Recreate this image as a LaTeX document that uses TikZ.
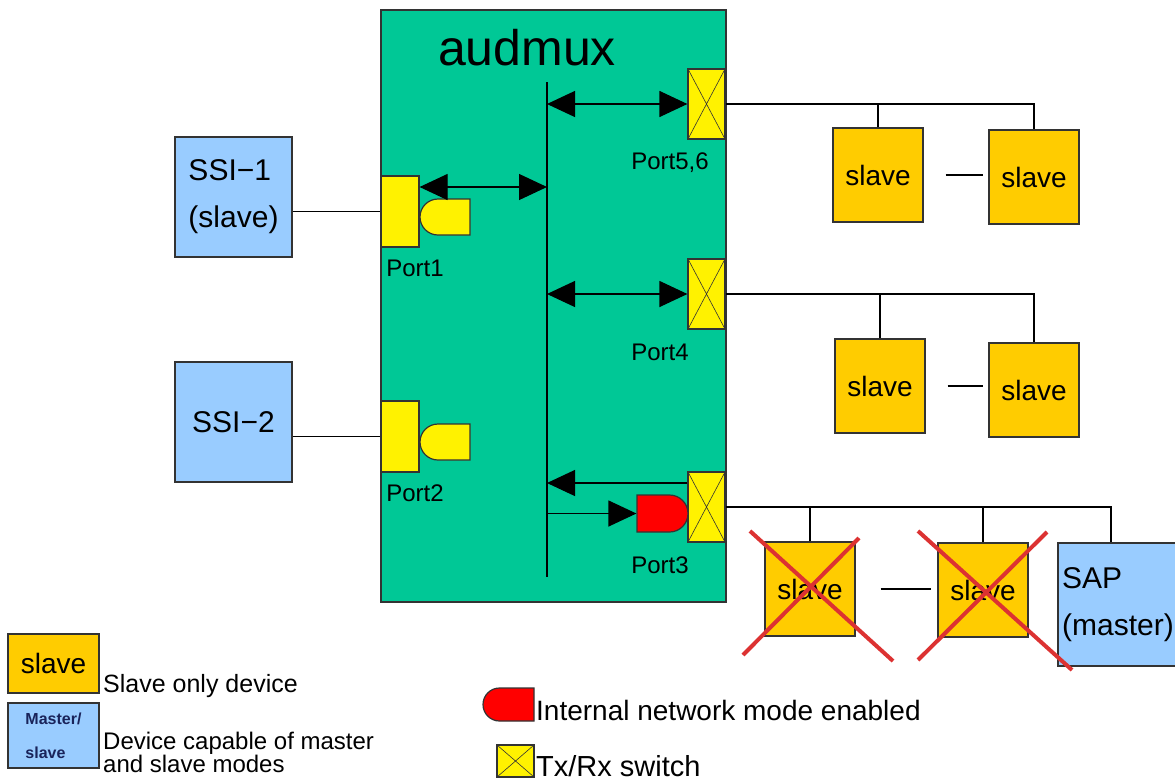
\documentclass[tikz,border=0pt]{standalone}
\usepackage{fontspec}
\setmainfont{Liberation Sans}
\usetikzlibrary{arrows.meta, positioning, shapes.misc}
\definecolor{muxgreen}{RGB}{0,200,150}
\definecolor{slaveorange}{RGB}{255,204,0}
\definecolor{msblue}{RGB}{153,204,255}
\definecolor{crossred}{RGB}{220,50,50}
\definecolor{msnavy}{RGB}{25,35,90}
\tikzset{
  slavebox/.style = {rectangle, draw=black!80, fill=slaveorange, line width=1.2pt, minimum width=90pt, minimum height=94pt, inner sep=0pt, font=\fontsize{28}{32}\selectfont},
  msbox/.style = {rectangle, draw=black!80, fill=msblue, line width=1.2pt, minimum width=117pt, minimum height=120pt, inner sep=0pt, align=left, font=\fontsize{30}{47}\selectfont},
  portbox/.style = {rectangle, draw=black!80, fill=yellow, line width=1.2pt, minimum width=38pt, minimum height=71pt, inner sep=0pt},
  halfgate/.style = {rounded rectangle, rounded rectangle right arc=none, draw=black!80, fill=yellow, line width=1.2pt, minimum width=50pt, minimum height=36pt, inner sep=0pt},
  txrx/.style = {portbox, minimum width=37pt, minimum height=70pt, path picture={\draw[line width=0.6pt] (path picture bounding box.north west) -- (path picture bounding box.south east) (path picture bounding box.north east) -- (path picture bounding box.south west);}},
  portlbl/.style = {inner sep=0pt, font=\fontsize{24}{28}\selectfont},
  lbl/.style = {inner sep=0pt, align=left},
  line/.style = {line width=1.2pt},
  arr/.style = {-{Triangle[length=28pt,width=26pt]}, line width=1.2pt},
  darr/.style = {{Triangle[length=28pt,width=26pt]}-{Triangle[length=28pt,width=26pt]}, line width=1.2pt},
  redx/.style = {draw=crossred, line width=4pt}
}
\begin{document}
\begin{tikzpicture}[x=1pt, y=-1pt]
\useasboundingbox (0,0) rectangle (1175,780);

% audmux block
\node[rectangle, draw=black!80, fill=muxgreen, line width=1.2pt, minimum width=345pt, minimum height=592pt] (mux) at (553.5,306) {};
\node[inner sep=0pt, font=\fontsize{50}{56}\selectfont] (title) at (527,48) {audmux};
\coordinate (bustop) at (547,82);
\coordinate (busbot) at (547,577);
\draw[line] (bustop) -- (busbot);

% Left ports
\node[portbox] (p1) at (400,211.5) {};
\node[halfgate] (g1) at (445,217) {};
\node[portlbl] (p1l) at (415,268) {Port1};
\node[portbox] (p2) at (400,436.5) {};
\node[halfgate] (g2) at (445,442) {};
\node[portlbl] (p2l) at (415,493) {Port2};

% Right ports
\node[txrx] (sw56) at (706.5,104) {};
\node[portlbl] (sw56l) at (670,163) {Port5,6};
\node[txrx] (sw4) at (706.5,294) {};
\node[portlbl] (sw4l) at (660,352) {Port4};
\node[txrx] (sw3) at (706.5,507) {};
\node[halfgate, rounded rectangle right arc=convex, rounded rectangle left arc=none, fill=red, minimum width=51pt, minimum height=37pt] (rd3) at (662.5,513.5) {};
\node[portlbl] (sw3l) at (660,565) {Port3};

% SSI devices
\node[msbox] (ssi1) at (233.5,197) {SSI−1\\(slave)};
\node[msbox] (ssi2) at (233.5,422) {SSI−2};

% Slaves on Port5,6
\node[slavebox] (s1) at (878,175) {slave};
\node[slavebox] (s2) at (1034,177) {slave};
% Slaves on Port4
\node[slavebox] (s3) at (880,386) {slave};
\node[slavebox] (s4) at (1034,390) {slave};
% Slaves on Port3
\node[slavebox] (s5) at (810,589) {slave};
\node[slavebox] (s6) at (983,590) {slave};
\node[msbox, minimum width=120pt, minimum height=123pt] (sap) at (1118,604.5) {SAP\\(master)};

% ----- ARROWS -----
\coordinate (p1a) at ([yshift=24.5pt]p1.east);
\draw[darr] (p1a) -- (bustop |- p1a);
\draw[darr] (bustop |- sw56.west) -- (sw56.west);
\draw[darr] (bustop |- sw4.west) -- (sw4.west);
\coordinate (sw3a) at ([yshift=24pt]sw3.west);
\draw[arr] (sw3a) -- (bustop |- sw3a);
\draw[arr] (bustop |- rd3.west) -- (rd3.west);

% ----- LINES -----
\draw[line] (ssi1.east |- p1.west) -- (p1.west);
\draw[line] (ssi2.east |- p2.west) -- (p2.west);
\draw[line] (sw56.east) -| (s2.north);
\draw[line] (s1.north) -- (s1.north |- sw56.east);
\draw[line, shorten <=22pt, shorten >=5pt] (s1.east) -- (s1.east -| s2.west);
\draw[line] (sw4.east) -| (s4.north);
\draw[line] (s3.north) -- (s3.north |- sw4.east);
\draw[line, shorten <=22pt, shorten >=5pt] (s3.east) -- (s3.east -| s4.west);
\draw[line] (sw3.east) -| ([xshift=-7pt]sap.north);
\draw[line] (s5.north) -- (s5.north |- sw3.east);
\draw[line] (s6.north) -- (s6.north |- sw3.east);
\draw[line, shorten <=25pt, shorten >=6pt] (s5.east) -- (s5.east -| s6.west);

% crossed out slaves
\draw[redx] (750,531) -- (893,661);
\draw[redx] (743,655) -- (859,538);
\draw[redx] (918,531) -- (1072,670);
\draw[redx] (918,660) -- (1047,532);

% ----- LEGEND -----
\node[slavebox, minimum width=91pt, minimum height=59pt] (lslave) at (53.5,663.5) {slave};
\node[lbl, anchor=base west, font=\fontsize{25}{28}\selectfont] (lslavet) at (103,692) {Slave only device};
\node[msbox, minimum width=91pt, minimum height=65pt, text=msnavy, font=\bfseries\fontsize{16}{34}\selectfont] (lms) at (53.5,735.5) {Master/\\slave};
\node[lbl, anchor=north west, font=\fontsize{24}{21}\selectfont] (lmst) at (103,732) {Device capable of master\\and slave modes};
\node[halfgate, fill=red, minimum width=51pt, minimum height=33pt] (lnet) at (508.5,704.5) {};
\node[lbl, anchor=base west, font=\fontsize{28}{32}\selectfont] (lnett) at (536,720) {Internal network mode enabled};
\node[txrx, minimum width=37pt, minimum height=32pt] (lsw) at (515.5,761) {};
\node[lbl, anchor=base west, font=\fontsize{29}{32}\selectfont] (lswt) at (536,776) {Tx/Rx switch};

\end{tikzpicture}
\end{document}
